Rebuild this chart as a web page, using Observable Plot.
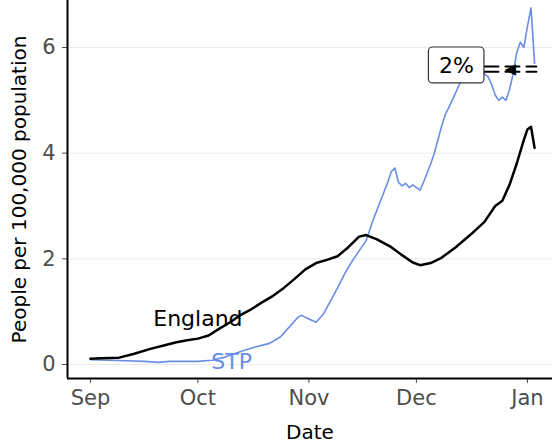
<!DOCTYPE html>
<html>
<head>
<meta charset="utf-8">
<script src="https://cdn.jsdelivr.net/npm/d3@7"></script>
<script src="https://cdn.jsdelivr.net/npm/@observablehq/plot@0.6"></script>
<style>
  html, body { margin: 0; padding: 0; background: #ffffff; }
  #chart { width: 552px; height: 443px; }
</style>
</head>
<body>
<div id="chart"></div>
<script>
// Days since 1 Sep 2020 and values (people per 100,000 population)
const startDate = "2020-09-01";
const englandDay = [0, 3, 8, 12, 17, 21, 24, 27, 30, 33, 36, 39, 42, 45, 48, 51, 54, 57, 60, 63, 66, 69, 72, 75, 77, 80, 84, 87, 90, 92, 95, 98, 102, 106, 110, 113, 115, 117, 119, 121, 122, 123, 124];
const englandValue = [0.11, 0.12, 0.13, 0.2, 0.3, 0.37, 0.42, 0.46, 0.49, 0.55, 0.68, 0.8, 0.94, 1.05, 1.18, 1.3, 1.45, 1.62, 1.8, 1.92, 1.98, 2.05, 2.22, 2.42, 2.45, 2.37, 2.22, 2.07, 1.93, 1.88, 1.92, 2.02, 2.22, 2.45, 2.7, 3.0, 3.1, 3.4, 3.8, 4.25, 4.45, 4.5, 4.1];
const stpDay = [0, 5, 10, 15, 19, 22, 26, 30, 34, 37, 40, 43, 46, 50, 53, 55, 58, 59, 61, 63, 65, 67, 69, 71, 73, 75, 77, 79, 81, 83, 84, 85, 86, 87, 88, 89, 90, 92, 93, 95, 96, 98, 99, 101, 103, 105, 107, 109, 111, 112, 113, 114, 115, 116, 117, 118, 119, 120, 121, 122, 123, 124];
const stpValue = [0.09, 0.08, 0.07, 0.06, 0.04, 0.06, 0.06, 0.06, 0.08, 0.13, 0.2, 0.27, 0.33, 0.4, 0.52, 0.67, 0.9, 0.93, 0.86, 0.8, 0.95, 1.2, 1.45, 1.72, 1.95, 2.15, 2.35, 2.75, 3.1, 3.45, 3.65, 3.72, 3.45, 3.38, 3.43, 3.35, 3.4, 3.3, 3.45, 3.8, 4.0, 4.5, 4.72, 5.0, 5.3, 5.5, 5.6, 5.55, 5.45, 5.3, 5.1, 5.0, 5.06, 5.0, 5.2, 5.5, 5.9, 6.1, 6.0, 6.4, 6.75, 5.7];
const monthTicks = ["2020-09-01", "2020-10-01", "2020-11-01", "2020-12-01", "2021-01-01"];
const yTicks = [0, 2, 4, 6];
const seriesLabels = ["England", "STP"];
const seriesColors = ["#000000", "#6a8ee6"];
const annotationText = "2%";

const DAY = 86400000;
const t0 = new Date(startDate + "T00:00:00Z").getTime();
const dayToDate = d => new Date(t0 + d * DAY);

const england = englandDay.map((d, i) => ({date: dayToDate(d), value: englandValue[i]}));
const stp = stpDay.map((d, i) => ({date: dayToDate(d), value: stpValue[i]}));
const ticks = monthTicks.map(s => new Date(s + "T00:00:00Z"));

const xDomain = [dayToDate(-6.4), dayToDate(129)];
const yDomain = [-0.265, 6.89];

const labels = [
  {date: dayToDate(30), value: 0.86, text: seriesLabels[0], color: seriesColors[0]},
  {date: dayToDate(39.4), value: 0.04, text: seriesLabels[1], color: seriesColors[1]}
];
const box = [{x1: dayToDate(94.5), x2: dayToDate(110), y1: 5.32, y2: 6.0}];
const boxLabel = [{date: dayToDate(102.2), value: 5.66, text: annotationText}];
const dashLines = [
  [{date: dayToDate(110), value: 5.64}, {date: dayToDate(124.5), value: 5.64}],
  [{date: dayToDate(110), value: 5.54}, {date: dayToDate(124.5), value: 5.54}]
];
const arrowHead = [{date: dayToDate(117.2), value: 5.59}];

const chart = Plot.plot({
  width: 552,
  height: 443,
  marginLeft: 67,
  marginRight: 0,
  marginTop: 0,
  marginBottom: 65,
  style: {fontFamily: "DejaVu Sans", fontSize: "21px", background: "#ffffff", color: "#4d4d4d"},
  x: {type: "utc", domain: xDomain, ticks: ticks, tickFormat: d3.utcFormat("%b"), tickSize: 5, tickPadding: 7,
      label: "Date", labelAnchor: "center", labelOffset: 60},
  y: {domain: yDomain, ticks: yTicks, tickSize: 5, tickPadding: 7,
      label: "People per 100,000 population", labelAnchor: "center", labelOffset: 56},
  marks: [
    Plot.ruleY(yTicks, {stroke: "#ebebeb", strokeWidth: 1}),
    Plot.ruleX([xDomain[0]], {stroke: "#000", strokeWidth: 2}),
    Plot.ruleY([yDomain[0]], {stroke: "#000", strokeWidth: 2}),
    Plot.line(stp, {x: "date", y: "value", stroke: seriesColors[1], strokeWidth: 1.6}),
    Plot.line(england, {x: "date", y: "value", stroke: seriesColors[0], strokeWidth: 2.5}),
    Plot.text(labels, {x: "date", y: "value", text: "text", fill: "color", fontSize: 22}),
    ...dashLines.map(l => Plot.line(l, {x: "date", y: "value", stroke: "#000", strokeWidth: 2, strokeDasharray: "14,7"})),
    Plot.text(arrowHead, {x: "date", y: "value", text: () => "\u25C0", fill: "#000", fontSize: 15}),
    Plot.rect(box, {x1: "x1", x2: "x2", y1: "y1", y2: "y2", fill: "#ffffff", stroke: "#333333", strokeWidth: 1.2, rx: 4}),
    Plot.text(boxLabel, {x: "date", y: "value", text: "text", fill: "#000", fontSize: 22})
  ]
});

d3.select(chart).selectAll("text").each(function() {
  const t = this.textContent;
  if (t.startsWith("Date") || t.startsWith("People")) {
    this.textContent = t.replace(/\s*[\u2190-\u2193]\s*/g, "").trim();
    d3.select(this).attr("fill", "#000000").style("font-size", "20px");
  }
});
document.getElementById("chart").appendChild(chart);
</script>
</body>
</html>
